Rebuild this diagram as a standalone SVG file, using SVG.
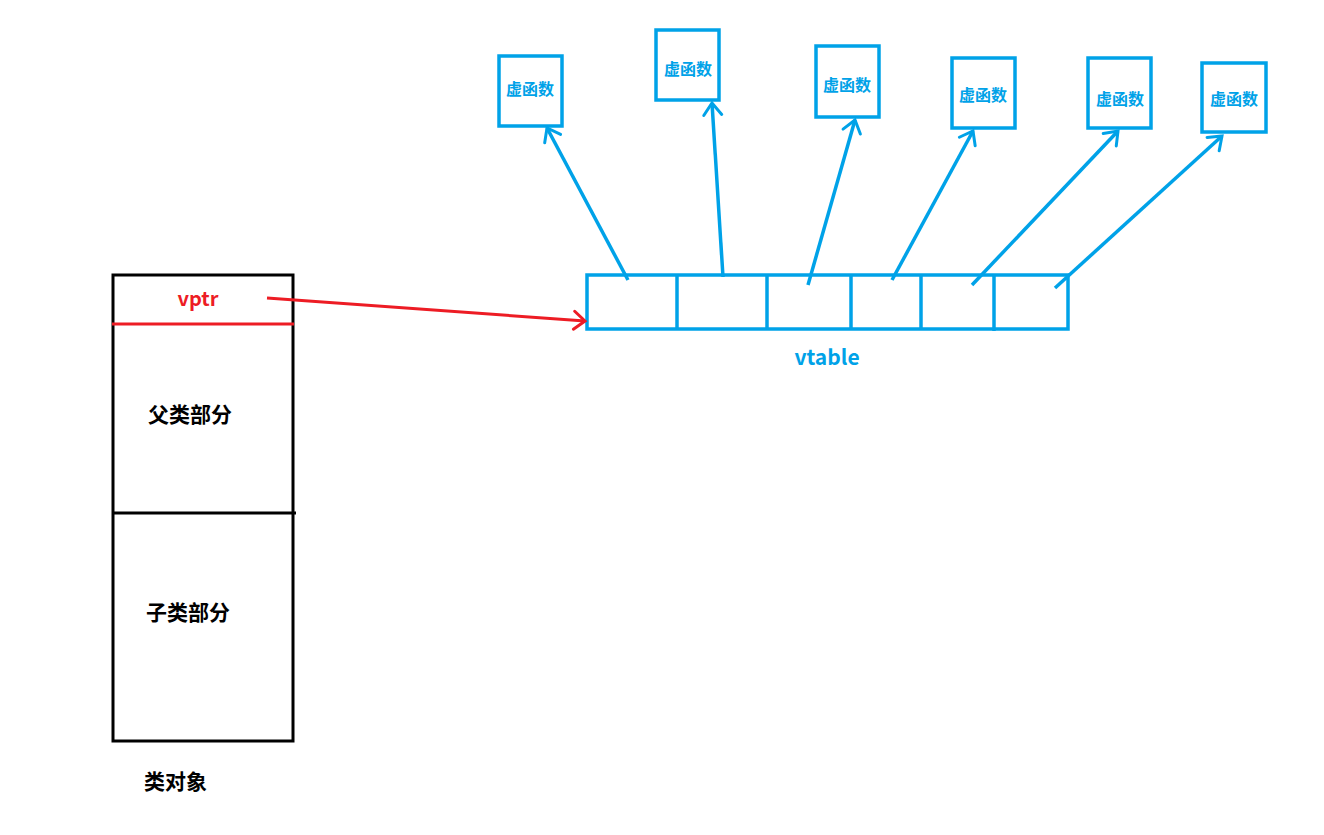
<svg xmlns="http://www.w3.org/2000/svg" width="1324" height="835" viewBox="0 0 1324 835">
<style>
.b{fill:none;stroke:#00a2e8;stroke-width:3.5}
.k{fill:none;stroke:#000;stroke-width:3}
.bt{fill:#00a2e8;font-family:"Noto Sans CJK SC","Microsoft YaHei",sans-serif;font-weight:bold;font-size:16px;text-anchor:middle}
.kt{fill:#000;font-family:"Noto Sans CJK SC",sans-serif;font-weight:bold;font-size:21px}
.con{stroke:#00a2e8;stroke-width:3.5;fill:none;marker-end:url(#ab)}
</style>
<defs>
<marker id="ab" markerUnits="userSpaceOnUse" markerWidth="30" markerHeight="30" refX="14" refY="10" orient="auto" viewBox="0 0 30 20">
<path d="M2,1 L14,10 L2,19" fill="none" stroke="#00a2e8" stroke-width="3" stroke-linecap="round"/>
</marker>
<marker id="ar" markerUnits="userSpaceOnUse" markerWidth="30" markerHeight="30" refX="14" refY="10" orient="auto" viewBox="0 0 30 20">
<path d="M3,1 L14,10 L3,19" fill="none" stroke="#ed1c24" stroke-width="3" stroke-linecap="round"/>
</marker>
</defs>
<rect width="1324" height="835" fill="#fff"/>
<g id="obj">
<rect class="k" x="113" y="275" width="180" height="466"/>
<line class="k" x1="112" y1="513" x2="296" y2="513"/>
<line x1="112" y1="324" x2="294" y2="324" stroke="#ed1c24" stroke-width="3"/>
<text x="198" y="306" fill="#ed1c24" font-family="'Noto Sans CJK SC',sans-serif" font-weight="bold" font-size="20" text-anchor="middle">vptr</text>
<text class="kt" x="148" y="422">父类部分</text>
<text class="kt" x="146" y="620">子类部分</text>
<text class="kt" x="144" y="789">类对象</text>
</g>
<g id="vtable">
<rect class="b" x="587" y="275" width="481" height="54"/>
<line class="b" x1="677" y1="275" x2="677" y2="329"/>
<line class="b" x1="767" y1="275" x2="767" y2="329"/>
<line class="b" x1="851" y1="275" x2="851" y2="329"/>
<line class="b" x1="921" y1="275" x2="921" y2="329"/>
<line class="b" x1="994" y1="275" x2="994" y2="331"/>
<text x="827" y="365" fill="#00a2e8" font-family="'Noto Sans CJK SC',sans-serif" font-weight="bold" font-size="21" text-anchor="middle">vtable</text>
</g>
<g id="f1"><rect class="b" x="499" y="56" width="63" height="70"/><text class="bt" x="530" y="95">虚函数</text></g>
<g id="f2"><rect class="b" x="656" y="30" width="63" height="70"/><text class="bt" x="688" y="75">虚函数</text></g>
<g id="f3"><rect class="b" x="816" y="46" width="63" height="71"/><text class="bt" x="847" y="91">虚函数</text></g>
<g id="f4"><rect class="b" x="952" y="58" width="63" height="70"/><text class="bt" x="983" y="101">虚函数</text></g>
<g id="f5"><rect class="b" x="1088" y="58" width="63" height="70"/><text class="bt" x="1120" y="105">虚函数</text></g>
<g id="f6"><rect class="b" x="1202" y="63" width="64" height="69"/><text class="bt" x="1234" y="105">虚函数</text></g>
<g id="connectors">
<line x1="267" y1="298" x2="585" y2="321" stroke="#ed1c24" stroke-width="3" marker-end="url(#ar)"/>
<line class="con" x1="628" y1="280" x2="547" y2="128"/>
<line class="con" x1="723" y1="277" x2="712" y2="103"/>
<line class="con" x1="808" y1="285" x2="855" y2="120"/>
<line class="con" x1="892" y1="280" x2="973" y2="131"/>
<line class="con" x1="972" y1="285" x2="1118" y2="131"/>
<line class="con" x1="1055" y1="288" x2="1222" y2="136"/>
</g>
</svg>
